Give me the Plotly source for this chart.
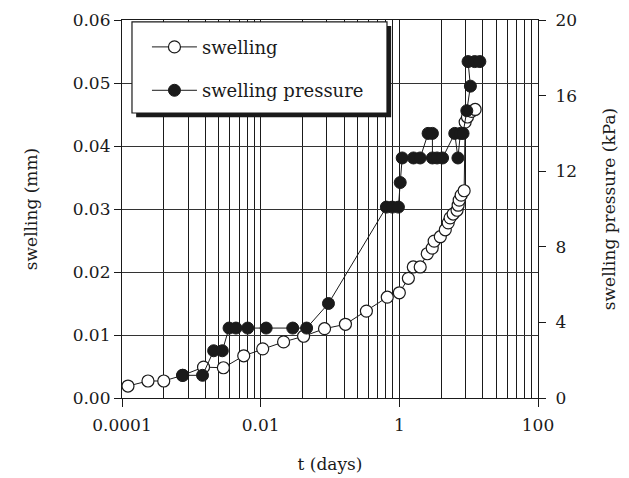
import plotly.graph_objects as go

# Swelling test: swelling displacement and swelling pressure versus time
swell_t = [1.22e-4, 2.37e-4, 4.0e-4, 7.5e-4, 1.5e-3, 2.9e-3, 5.7e-3, 0.0107, 0.0214,
           0.0416, 0.0834, 0.167, 0.335, 0.67, 1.0, 1.35, 1.59, 2.0, 2.53, 2.98,
           3.18, 3.9, 4.6, 5.07, 5.4, 5.97, 6.8, 7.05, 7.3, 7.8, 8.6, 8.9, 9.6,
           11.0, 12.4]
swell_mm = [0.0019, 0.0027, 0.0027, 0.0036, 0.0049, 0.0048, 0.0067, 0.0078, 0.0089,
            0.0098, 0.0110, 0.0117, 0.0138, 0.0160, 0.0167, 0.0190, 0.0208, 0.0208,
            0.0229, 0.0238, 0.0249, 0.0256, 0.0267, 0.0278, 0.0286, 0.0292, 0.0298,
            0.0306, 0.0314, 0.0322, 0.0329, 0.0438, 0.0446, 0.0455, 0.0458]

press_t = [7.5e-4, 1.45e-3, 2.1e-3, 2.8e-3, 3.5e-3, 4.4e-3, 6.5e-3, 0.012, 0.029,
           0.046, 0.095, 0.65, 0.79, 0.97, 1.03, 1.1, 1.6, 2.0, 2.6, 3.0, 3.0, 3.5,
           4.2, 6.3, 7.0, 7.6, 8.3, 9.4, 10.6, 9.8, 12.2, 14.5]
press_kpa = [1.2, 1.2, 2.5, 2.5, 3.7, 3.7, 3.7, 3.7, 3.7, 3.7, 5.0, 10.1, 10.1, 10.1,
             11.4, 12.7, 12.7, 12.7, 14.0, 14.0, 12.7, 12.7, 12.7, 14.0, 12.7, 14.0,
             14.0, 15.2, 16.5, 17.8, 17.8, 17.8]

x_major = [1e-4, 1e-2, 1, 100]
x_major_text = ["0.0001", "0.01", "1", "100"]
# grid lines at k^2 fractions of each labelled interval
x_grid = [k * k * base for base in (1e-4, 1e-2, 1) for k in range(2, 10)]
y_ticks = [0.0, 0.01, 0.02, 0.03, 0.04, 0.05, 0.06]
y2_ticks = [0, 4, 8, 12, 16, 20]

FONT = "DejaVu Serif"
INK = "#1a1a1a"

fig = go.Figure()
fig.add_trace(go.Scatter(
    x=swell_t, y=swell_mm, name="swelling", mode="lines+markers",
    line=dict(color=INK, width=1),
    marker=dict(symbol="circle", size=12, color="white", line=dict(color=INK, width=1.2)),
    legendgroup="a",
))
fig.add_trace(go.Scatter(
    x=press_t, y=press_kpa, name="swelling pressure", mode="lines+markers",
    yaxis="y2", line=dict(color=INK, width=1),
    marker=dict(symbol="circle", size=12, color=INK, line=dict(color=INK, width=1)),
    legendgroup="b",
))

axis_common = dict(
    showline=True, linecolor=INK, linewidth=1.2, automargin=False,
    tickfont=dict(family=FONT, size=17, color=INK),
    title_font=dict(family=FONT, size=17, color=INK),
)

fig.update_layout(
    width=629, height=478,
    margin=dict(l=122, r=91, t=20, b=80),
    paper_bgcolor="white", plot_bgcolor="white",
    showlegend=True,
    legend=dict(
        x=0.06, y=0.977, xanchor="left", yanchor="top",
        bgcolor="rgba(0,0,0,0)", borderwidth=0,
        font=dict(family=FONT, size=18, color=INK),
        tracegroupgap=17, itemwidth=45,
    ),
    xaxis=dict(
        type="log", range=[-4, 2], mirror=True,
        tickmode="array", tickvals=x_major, ticktext=x_major_text,
        ticks="outside", ticklen=8, tickcolor=INK, ticklabelstandoff=3,
        showgrid=True, gridcolor=INK, gridwidth=1,
        minor=dict(tickmode="array", tickvals=x_grid, showgrid=True,
                   gridcolor=INK, gridwidth=1, ticks=""),
        title=dict(text="t (days)", standoff=24),
        zeroline=False,
        **axis_common,
    ),
    yaxis=dict(
        range=[0, 0.06], tickmode="array", tickvals=y_ticks, tickformat=".2f",
        ticks="outside", ticklen=7, tickcolor=INK,
        showgrid=True, gridcolor="#333333", gridwidth=1,
        title=dict(text="swelling (mm)", standoff=30),
        zeroline=False,
        **axis_common,
    ),
    yaxis2=dict(
        range=[0, 20], overlaying="y", side="right",
        tickmode="array", tickvals=y2_ticks,
        ticks="outside", ticklen=7, tickcolor=INK, ticklabelstandoff=6,
        showgrid=False, zeroline=False,
        title=dict(text="swelling pressure (kPa)", standoff=26),
        **axis_common,
    ),
)

# legend frame with a drop shadow
fig.add_shape(type="rect", xref="paper", yref="paper",
              x0=0.034, x1=0.647, y0=0.743, y1=0.984,
              fillcolor=INK, line=dict(width=0), layer="above")
fig.add_shape(type="rect", xref="paper", yref="paper",
              x0=0.024, x1=0.637, y0=0.754, y1=0.995,
              fillcolor="white", line=dict(color=INK, width=1.2), layer="above")

fig.write_html("out.html")
